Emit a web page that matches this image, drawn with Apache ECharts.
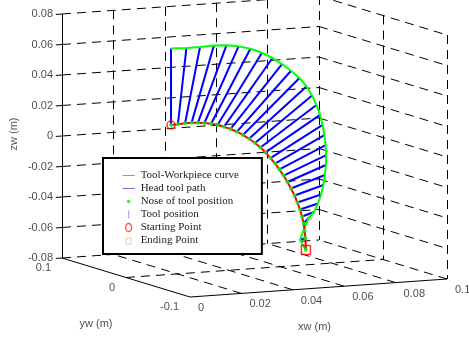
<!DOCTYPE html>
<html lang="en" style="height: 100%">

<head>
    <meta charset="utf-8" />
    <script src="https://cdn.jsdelivr.net/npm/echarts@6/dist/echarts.min.js"></script>
</head>

<body style="height: 100%; margin: 0">
    <div id="container" style="width: 469px;height: 341px;"></div>
    <script type="text/javascript">
        // axis limits and ticks (metres)
        var xLim = [0, 0.1];
        var yLim = [-0.1, 0.1];
        var zLim = [-0.08, 0.08];
        var xTicks = [0, 0.02, 0.04, 0.06, 0.08, 0.1];
        var xTickLabels = ['0', '0.02', '0.04', '0.06', '0.08', '0.1'];
        var yTicks = [0.1, 0, -0.1];
        var yTickLabels = ['0.1', '0', '-0.1'];
        var zTicks = [0.08, 0.06, 0.04, 0.02, 0, -0.02, -0.04, -0.06, -0.08];
        var zTickLabels = ['0.08', '0.06', '0.04', '0.02', '0', '-0.02', '-0.04', '-0.06', '-0.08'];

        // tool path lies in the plane yw = 0
        var toolPlaneY = 0;
        // nose of tool (tool-workpiece contact curve)
        var noseX = [0.0175, 0.0202, 0.0230, 0.0255, 0.0280, 0.0305, 0.0331, 0.0356, 0.0381, 0.0407,
            0.0432, 0.0455, 0.0479, 0.0502, 0.0523, 0.0543, 0.0562, 0.0580, 0.0597, 0.0613,
            0.0628, 0.0642, 0.0656, 0.0667, 0.0677, 0.0685, 0.0691, 0.0695, 0.0698, 0.0700];
        var noseZ = [0.0179, 0.0181, 0.0184, 0.0184, 0.0182, 0.0177, 0.0169, 0.0158, 0.0143, 0.0126,
            0.0105, 0.0081, 0.0053, 0.0023, -0.0009, -0.0044, -0.0083, -0.0121, -0.0162, -0.0204,
            -0.0248, -0.0292, -0.0340, -0.0387, -0.0434, -0.0481, -0.0527, -0.0574, -0.0623, -0.0702];
        // head of tool
        var headX = [0.0175, 0.0235, 0.0288, 0.0342, 0.0391, 0.0438, 0.0484, 0.0529, 0.0570, 0.0607,
            0.0642, 0.0675, 0.0702, 0.0724, 0.0741, 0.0755, 0.0765, 0.0772, 0.0777, 0.0779,
            0.0778, 0.0774, 0.0768, 0.0759, 0.0747, 0.0732, 0.0710, 0.0693, 0.0677, 0.0700];
        var headZ = [0.0681, 0.0677, 0.0678, 0.0681, 0.0677, 0.0664, 0.0643, 0.0611, 0.0572, 0.0528,
            0.0480, 0.0429, 0.0370, 0.0308, 0.0244, 0.0177, 0.0110, 0.0043, -0.0023, -0.0089,
            -0.0154, -0.0219, -0.0284, -0.0345, -0.0403, -0.0457, -0.0494, -0.0564, -0.0634, -0.0702];

        // fixed 3d view: screen offset of (0,0,0) and screen step per metre along each axis
        var view = {
            origin: [126, 155.5],
            ex: [2570, -180],
            ey: [-640, -195],
            ez: [0, -1525]
        };

        function proj(x, y, z) {
            return [
                view.origin[0] + x * view.ex[0] + y * view.ey[0] + z * view.ez[0],
                view.origin[1] + x * view.ex[1] + y * view.ey[1] + z * view.ez[1]
            ];
        }

        var xMin = xLim[0], xMax = xLim[1];
        var yMin = yLim[0], yMax = yLim[1];
        var zMin = zLim[0], zMax = zLim[1];

        // dashed grid on the back wall, side wall and floor
        var gridSegs = [];
        xTicks.forEach(function (x) {
            if (x > xMin) {
                gridSegs.push({ coords: [proj(x, yMax, zMax), proj(x, yMax, zMin)] });
                gridSegs.push({ coords: [proj(x, yMin, zMin), proj(x, yMax, zMin)] });
            }
        });
        zTicks.forEach(function (z) {
            gridSegs.push({ coords: [proj(xMin, yMax, z), proj(xMax, yMax, z)] });
            if (z > zMin) {
                gridSegs.push({ coords: [proj(xMax, yMax, z), proj(xMax, yMin, z)] });
            }
        });
        yTicks.forEach(function (y) {
            if (y < yMax) {
                gridSegs.push({ coords: [proj(xMax, y, zMax), proj(xMax, y, zMin)] });
            }
            if (y > yMin && y < yMax) {
                gridSegs.push({ coords: [proj(xMin, y, zMin), proj(xMax, y, zMin)] });
            }
        });

        var axisSegs = [
            { coords: [proj(xMin, yMax, zMin), proj(xMin, yMax, zMax)] },
            { coords: [proj(xMin, yMax, zMin), proj(xMin, yMin, zMin)] },
            { coords: [proj(xMin, yMin, zMin), proj(xMax, yMin, zMin)] }
        ];
        zTicks.forEach(function (z) {
            axisSegs.push({ coords: [proj(xMin, yMax, z), proj(xMin - 0.0024, yMax, z)] });
        });

        var labelFont = { fontFamily: 'Liberation Sans', fontSize: 11, color: '#1a1a1a' };

        function tickLabelSeries(points, names, pos, align) {
            return {
                type: 'scatter',
                silent: true,
                symbolSize: 0,
                data: points.map(function (p, i) { return { value: p, name: names[i] }; }),
                label: Object.assign({
                    show: true,
                    formatter: '{b}',
                    position: pos,
                    align: align,
                    verticalAlign: 'middle'
                }, labelFont),
                z: 3
            };
        }

        function titleSeries(point, text, pos, rotate) {
            return {
                type: 'scatter',
                silent: true,
                symbolSize: 0,
                data: [{ value: point, name: text }],
                label: Object.assign({
                    show: true,
                    formatter: '{b}',
                    position: pos,
                    align: 'center',
                    verticalAlign: 'middle',
                    rotate: rotate
                }, labelFont),
                z: 3
            };
        }

        var nosePts = noseX.map(function (x, i) { return proj(x, toolPlaneY, noseZ[i]); });
        var headPts = headX.map(function (x, i) { return proj(x, toolPlaneY, headZ[i]); });
        var toolSegs = nosePts.map(function (p, i) { return { coords: [p, headPts[i]] }; });

        var dom = document.getElementById('container');
        var myChart = echarts.init(dom, null, { renderer: 'canvas' });

        var option = {
            animation: false,
            backgroundColor: '#fff',
            grid: { left: 0, right: 0, top: 0, bottom: 0 },
            xAxis: { type: 'value', min: 0, max: 469, show: false },
            yAxis: { type: 'value', min: 0, max: 341, inverse: true, show: false },
            legend: {
                orient: 'vertical',
                left: 103,
                top: 158,
                padding: [11, 23, 7, 18],
                itemWidth: 14,
                itemHeight: 10,
                itemGap: 0,
                backgroundColor: '#fff',
                borderColor: '#000',
                borderWidth: 2,
                borderRadius: 0,
                selectedMode: false,
                textStyle: { fontFamily: 'Liberation Serif', fontSize: 11, color: '#222', lineHeight: 13 },
                data: [
                    { name: 'Tool-Workpiece curve', icon: 'path://M0,0M14,10M1,4.5h12v1h-12z', itemStyle: { color: '#f37070', borderWidth: 0 } },
                    { name: 'Head tool path', icon: 'path://M0,0M14,10M1,4.5h12v1h-12z', itemStyle: { color: '#6a6af3', borderWidth: 0 } },
                    { name: 'Nose of tool position', icon: 'path://M0,0M14,10M5.2,5a1.8,1.8 0 1,0 3.6,0a1.8,1.8 0 1,0 -3.6,0z', itemStyle: { color: '#00ee00', borderWidth: 0 } },
                    { name: 'Tool position', icon: 'path://M0,0M14,10M6.3,1h1.4v8h-1.4z', itemStyle: { color: '#a8b0ff', borderWidth: 0 } },
                    { name: 'Starting Point', icon: 'path://M0,0M14,10M4,5a3,4 0 1,0 6,0a3,4 0 1,0 -6,0z', itemStyle: { color: 'transparent', borderColor: '#ff2020', borderWidth: 1.3 } },
                    { name: 'Ending Point', icon: 'path://M0,0M14,10M4.5,2.5h5v6h-5z', itemStyle: { color: 'transparent', borderColor: '#f4b0b0', borderWidth: 1 } }
                ]
            },
            series: [
                {
                    type: 'lines',
                    coordinateSystem: 'cartesian2d',
                    silent: true,
                    data: gridSegs,
                    lineStyle: { color: '#000', width: 1, type: [9, 6], opacity: 1 },
                    z: 1
                },
                {
                    type: 'lines',
                    coordinateSystem: 'cartesian2d',
                    silent: true,
                    data: axisSegs,
                    lineStyle: { color: '#000', width: 1, type: 'solid', opacity: 1 },
                    z: 1
                },
                tickLabelSeries(zTicks.map(function (z) { return proj(xMin, yMax, z); }), zTickLabels, [-9, 0], 'right'),
                tickLabelSeries(yTicks.map(function (y) { return proj(xMin, y, zMin); }), yTickLabels, [-11, 10], 'right'),
                tickLabelSeries(xTicks.map(function (x) { return proj(x, yMin, zMin); }), xTickLabels, [8, 11], 'left'),
                titleSeries(proj((xMin + xMax) / 2, yMin, zMin), 'xw (m)', [-4, 39], 0),
                titleSeries(proj(xMin, (yMin + yMax) / 2, zMin), 'yw (m)', [-30, 46], 0),
                titleSeries(proj(xMin, yMax, (zMin + zMax) / 2), 'zw (m)', [-48, -2], 90),
                {
                    name: 'Tool position',
                    type: 'lines',
                    coordinateSystem: 'cartesian2d',
                    silent: true,
                    data: toolSegs,
                    lineStyle: { color: '#0000ff', width: 2, opacity: 1 },
                    z: 2
                },
                {
                    name: 'Head tool path',
                    type: 'line',
                    data: headPts,
                    symbol: 'none',
                    color: '#00ff00',
                    lineStyle: { color: '#00ff00', width: 2 },
                    z: 2
                },
                {
                    name: 'Tool-Workpiece curve',
                    type: 'line',
                    data: nosePts,
                    symbol: 'none',
                    color: '#ff0000',
                    lineStyle: { color: '#ff0000', width: 2 },
                    z: 2
                },
                {
                    name: 'Nose of tool position',
                    type: 'scatter',
                    data: nosePts,
                    symbol: 'circle',
                    symbolSize: 4,
                    itemStyle: { color: '#00ff00' },
                    z: 2
                },
                {
                    name: 'Starting Point',
                    type: 'scatter',
                    data: [nosePts[0]],
                    symbol: 'circle',
                    symbolSize: 8,
                    itemStyle: { color: 'transparent', borderColor: '#ff0000', borderWidth: 1.5 },
                    z: 2
                },
                {
                    name: 'Ending Point',
                    type: 'scatter',
                    data: [nosePts[nosePts.length - 1]],
                    symbol: 'rect',
                    symbolSize: 9,
                    itemStyle: { color: 'transparent', borderColor: '#ff0000', borderWidth: 1.5 },
                    z: 2
                }
            ]
        };

        if (option && typeof option === 'object') {
            myChart.setOption(option);
        }

        window.addEventListener('resize', myChart.resize);
    </script>
</body>

</html>
